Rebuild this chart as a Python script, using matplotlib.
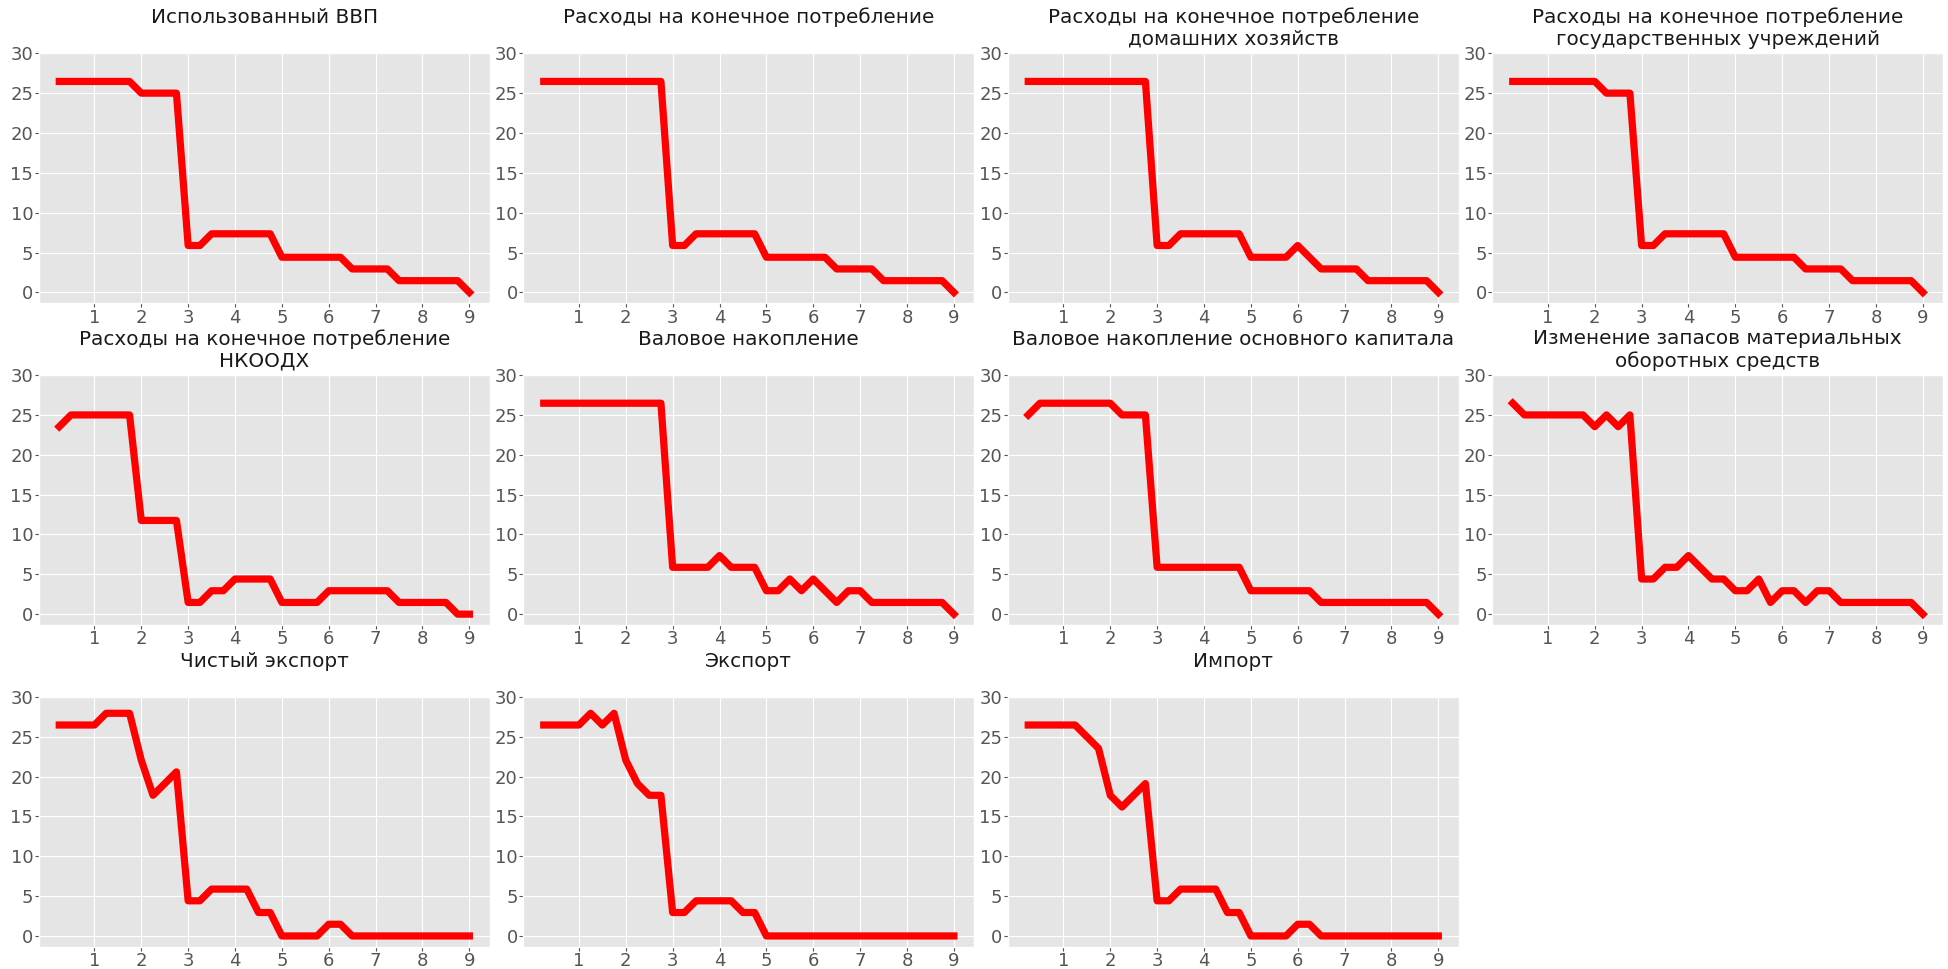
import matplotlib
matplotlib.use("Agg")
import matplotlib.pyplot as plt

plt.style.use("ggplot")

x = [0.25, 0.5, 0.75, 1.0, 1.25, 1.5, 1.75, 2.0, 2.25, 2.5, 2.75, 3.0,
     3.25, 3.5, 3.75, 4.0, 4.25, 4.5, 4.75, 5.0, 5.25, 5.5, 5.75, 6.0,
     6.25, 6.5, 6.75, 7.0, 7.25, 7.5, 7.75, 8.0, 8.25, 8.5, 8.75, 9.0]

titles = [
    "Использованный ВВП",
    "Расходы на конечное потребление",
    "Расходы на конечное потребление\nдомашних хозяйств",
    "Расходы на конечное потребление\nгосударственных учреждений",
    "Расходы на конечное потребление\nНКООДХ",
    "Валовое накопление",
    "Валовое накопление основного капитала",
    "Изменение запасов материальных\nоборотных средств",
    "Чистый экспорт",
    "Экспорт",
    "Импорт",
]

gdp_used = [26.47, 26.47, 26.47, 26.47, 26.47, 26.47, 26.47, 25.0, 25.0, 25.0, 25.0, 5.88,
            5.88, 7.35, 7.35, 7.35, 7.35, 7.35, 7.35, 4.41, 4.41, 4.41, 4.41, 4.41,
            4.41, 2.94, 2.94, 2.94, 2.94, 1.47, 1.47, 1.47, 1.47, 1.47, 1.47, 0.0]

final_consumption = [26.47, 26.47, 26.47, 26.47, 26.47, 26.47, 26.47, 26.47, 26.47, 26.47, 26.47, 5.88,
                     5.88, 7.35, 7.35, 7.35, 7.35, 7.35, 7.35, 4.41, 4.41, 4.41, 4.41, 4.41,
                     4.41, 2.94, 2.94, 2.94, 2.94, 1.47, 1.47, 1.47, 1.47, 1.47, 1.47, 0.0]

households = [26.47, 26.47, 26.47, 26.47, 26.47, 26.47, 26.47, 26.47, 26.47, 26.47, 26.47, 5.88,
              5.88, 7.35, 7.35, 7.35, 7.35, 7.35, 7.35, 4.41, 4.41, 4.41, 4.41, 5.88,
              4.41, 2.94, 2.94, 2.94, 2.94, 1.47, 1.47, 1.47, 1.47, 1.47, 1.47, 0.0]

government = [26.47, 26.47, 26.47, 26.47, 26.47, 26.47, 26.47, 26.47, 25.0, 25.0, 25.0, 5.88,
              5.88, 7.35, 7.35, 7.35, 7.35, 7.35, 7.35, 4.41, 4.41, 4.41, 4.41, 4.41,
              4.41, 2.94, 2.94, 2.94, 2.94, 1.47, 1.47, 1.47, 1.47, 1.47, 1.47, 0.0]

npish = [23.53, 25.0, 25.0, 25.0, 25.0, 25.0, 25.0, 11.76, 11.76, 11.76, 11.76, 1.47,
         1.47, 2.94, 2.94, 4.41, 4.41, 4.41, 4.41, 1.47, 1.47, 1.47, 1.47, 2.94,
         2.94, 2.94, 2.94, 2.94, 2.94, 1.47, 1.47, 1.47, 1.47, 1.47, 0.0, 0.0]

gross_capital = [26.47, 26.47, 26.47, 26.47, 26.47, 26.47, 26.47, 26.47, 26.47, 26.47, 26.47, 5.88,
                 5.88, 5.88, 5.88, 7.35, 5.88, 5.88, 5.88, 2.94, 2.94, 4.41, 2.94, 4.41,
                 2.94, 1.47, 2.94, 2.94, 1.47, 1.47, 1.47, 1.47, 1.47, 1.47, 1.47, 0.0]

fixed_capital = [25.0, 26.47, 26.47, 26.47, 26.47, 26.47, 26.47, 26.47, 25.0, 25.0, 25.0, 5.88,
                 5.88, 5.88, 5.88, 5.88, 5.88, 5.88, 5.88, 2.94, 2.94, 2.94, 2.94, 2.94,
                 2.94, 1.47, 1.47, 1.47, 1.47, 1.47, 1.47, 1.47, 1.47, 1.47, 1.47, 0.0]

inventories = [26.47, 25.0, 25.0, 25.0, 25.0, 25.0, 25.0, 23.53, 25.0, 23.53, 25.0, 4.41,
               4.41, 5.88, 5.88, 7.35, 5.88, 4.41, 4.41, 2.94, 2.94, 4.41, 1.47, 2.94,
               2.94, 1.47, 2.94, 2.94, 1.47, 1.47, 1.47, 1.47, 1.47, 1.47, 1.47, 0.0]

net_export = [26.47, 26.47, 26.47, 26.47, 27.94, 27.94, 27.94, 22.06, 17.65, 19.12, 20.59, 4.41,
              4.41, 5.88, 5.88, 5.88, 5.88, 2.94, 2.94, 0.0, 0.0, 0.0, 0.0, 1.47,
              1.47, 0.0, 0.0, 0.0, 0.0, 0.0, 0.0, 0.0, 0.0, 0.0, 0.0, 0.0]

export = [26.47, 26.47, 26.47, 26.47, 27.94, 26.47, 27.94, 22.06, 19.12, 17.65, 17.65, 2.94,
          2.94, 4.41, 4.41, 4.41, 4.41, 2.94, 2.94, 0.0, 0.0, 0.0, 0.0, 0.0,
          0.0, 0.0, 0.0, 0.0, 0.0, 0.0, 0.0, 0.0, 0.0, 0.0, 0.0, 0.0]

imports = [26.47, 26.47, 26.47, 26.47, 26.47, 25.0, 23.53, 17.65, 16.18, 17.65, 19.12, 4.41,
           4.41, 5.88, 5.88, 5.88, 5.88, 2.94, 2.94, 0.0, 0.0, 0.0, 0.0, 1.47,
           1.47, 0.0, 0.0, 0.0, 0.0, 0.0, 0.0, 0.0, 0.0, 0.0, 0.0, 0.0]

series = [gdp_used, final_consumption, households, government, npish,
          gross_capital, fixed_capital, inventories, net_export, export, imports]

xticks = [1, 2, 3, 4, 5, 6, 7, 8, 9]
yticks = [0, 5, 10, 15, 20, 25, 30]

fig, axes = plt.subplots(3, 4, figsize=(19.48, 9.69), dpi=100)
fig.subplots_adjust(left=0.0199, right=0.9976, top=0.945, bottom=0.023,
                    wspace=0.074, hspace=0.288)

for i, ax in enumerate(axes.flat):
    if i >= len(series):
        ax.axis("off")
        continue
    ax.plot(x, series[i], color="red", linewidth=5.2)
    t = titles[i]
    if "\n" not in t:
        t = t + "\n"
    ax.set_title(t, fontsize=14.4, color="#1a1a1a")
    ax.set_xticks(xticks)
    ax.set_yticks(yticks)
    ax.set_ylim(-1.35, 30)
    ax.tick_params(labelsize=13, length=2.7, pad=1.3)

fig.savefig("out.png", dpi=100)
